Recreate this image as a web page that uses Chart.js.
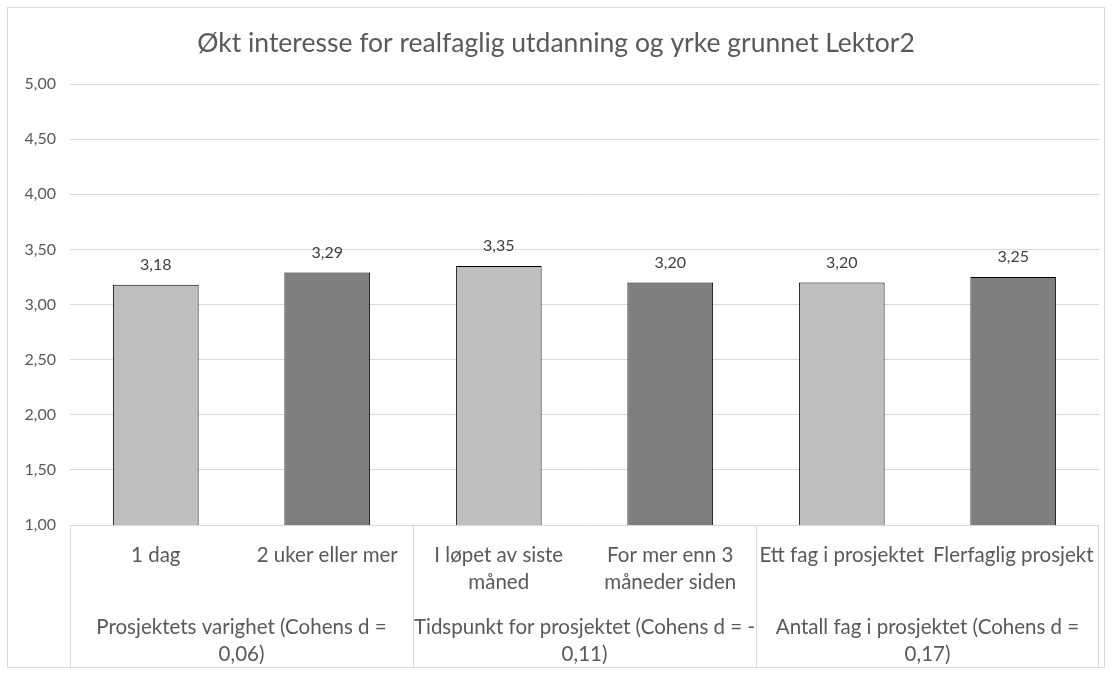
<!DOCTYPE html>
<html>
<head>
<meta charset="utf-8">
<title>Økt interesse for realfaglig utdanning og yrke grunnet Lektor2</title>
<script src="https://cdn.jsdelivr.net/npm/chart.js@4.4.1/dist/chart.umd.min.js"></script>
<style>
  html, body { margin: 0; padding: 0; background: #fff; }
  #wrap { width: 1112px; height: 675px; position: relative; }
</style>
</head>
<body>
<div id="wrap"><canvas id="chart"></canvas></div>
<script>
const categories = [
  '1 dag',
  '2 uker eller mer',
  ['I løpet av siste', 'måned'],
  ['For mer enn 3', 'måneder siden'],
  'Ett fag i prosjektet',
  'Flerfaglig prosjekt'
];
const values = [3.18, 3.29, 3.35, 3.20, 3.20, 3.25];
const groups = [
  { lines: ['Prosjektets varighet (Cohens d =', '0,06)'], from: 0, to: 1 },
  { lines: ['Tidspunkt for prosjektet (Cohens d = -', '0,11)'], from: 2, to: 3 },
  { lines: ['Antall fag i prosjektet (Cohens d =', '0,17)'], from: 4, to: 5 }
];
const barColors = ['#bfbfbf', '#7f7f7f', '#bfbfbf', '#7f7f7f', '#bfbfbf', '#7f7f7f'];

const FONT = 'Lato, "Open Sans", sans-serif';
const comma = v => v.toFixed(2).replace('.', ',');

// white background and thin frame around the whole chart
const frame = {
  id: 'frame',
  beforeDraw(chart) {
    const c = chart.ctx;
    c.save();
    c.fillStyle = '#fff';
    c.fillRect(0, 0, chart.width, chart.height);
    c.strokeStyle = '#d9d9d9';
    c.lineWidth = 1;
    c.strokeRect(7.5, 7.5, chart.width - 15, chart.height - 15);
    c.restore();
  }
};

// value above each bar
const valueLabels = {
  id: 'valueLabels',
  afterDatasetsDraw(chart) {
    const c = chart.ctx;
    const meta = chart.getDatasetMeta(0);
    c.save();
    c.font = '16px ' + FONT;
    c.fillStyle = '#404040';
    c.textAlign = 'center';
    c.textBaseline = 'middle';
    meta.data.forEach((bar, i) => {
      c.fillText(comma(values[i]), bar.x, bar.y - 20);
    });
    c.restore();
  }
};

// second row of the category axis: group boxes and their captions
const groupAxis = {
  id: 'groupAxis',
  afterDraw(chart) {
    const c = chart.ctx;
    const x = chart.scales.x;
    const top = chart.chartArea.bottom;
    const half = (x.getPixelForValue(1) - x.getPixelForValue(0)) / 2;
    c.save();
    c.strokeStyle = '#d9d9d9';
    c.lineWidth = 1;
    c.beginPath();
    c.moveTo(x.left, top + 0.5);
    c.lineTo(x.right, top + 0.5);
    groups.forEach(g => {
      const l = Math.round(x.getPixelForValue(g.from) - half) + 0.5;
      c.moveTo(l, top);
      c.lineTo(l, 668);
    });
    const r = Math.round(x.right) - 0.5;
    c.moveTo(r, top);
    c.lineTo(r, 668);
    c.stroke();

    c.font = '20.5px ' + FONT;
    c.fillStyle = '#595959';
    c.textAlign = 'center';
    c.textBaseline = 'middle';
    groups.forEach(g => {
      const cx = (x.getPixelForValue(g.from) + x.getPixelForValue(g.to)) / 2;
      g.lines.forEach((t, k) => c.fillText(t, cx, 627 + k * 27));
    });
    c.restore();
  }
};

new Chart(document.getElementById('chart'), {
  type: 'bar',
  data: {
    labels: categories,
    datasets: [{
      data: values,
      backgroundColor: barColors,
      borderColor: '#000',
      borderWidth: 1,
      categoryPercentage: 1,
      barPercentage: 0.5
    }]
  },
  options: {
    responsive: true,
    maintainAspectRatio: false,
    animation: false,
    layout: { padding: { left: 13, right: 13, top: 0, bottom: 0 } },
    plugins: {
      legend: { display: false },
      tooltip: { enabled: false },
      title: {
        display: true,
        text: 'Økt interesse for realfaglig utdanning og yrke grunnet Lektor2',
        color: '#595959',
        font: { family: FONT, size: 26.5, weight: 'normal', lineHeight: '32px' },
        padding: { top: 27, bottom: 25 }
      }
    },
    scales: {
      x: {
        grid: { display: false },
        border: { display: false },
        afterFit: s => { s.height = 150; },
        ticks: {
          color: '#595959',
          padding: 9,
          maxRotation: 0,
          autoSkip: false,
          font: { family: FONT, size: 20.5, lineHeight: '27px' }
        }
      },
      y: {
        min: 1,
        max: 5,
        afterFit: s => { s.width = 57; },
        grid: { color: '#d9d9d9', drawTicks: false },
        border: { display: false },
        ticks: {
          stepSize: 0.5,
          color: '#595959',
          padding: 14,
          font: { family: FONT, size: 16 },
          callback: v => comma(v)
        }
      }
    }
  },
  plugins: [frame, valueLabels, groupAxis]
});
</script>
</body>
</html>
